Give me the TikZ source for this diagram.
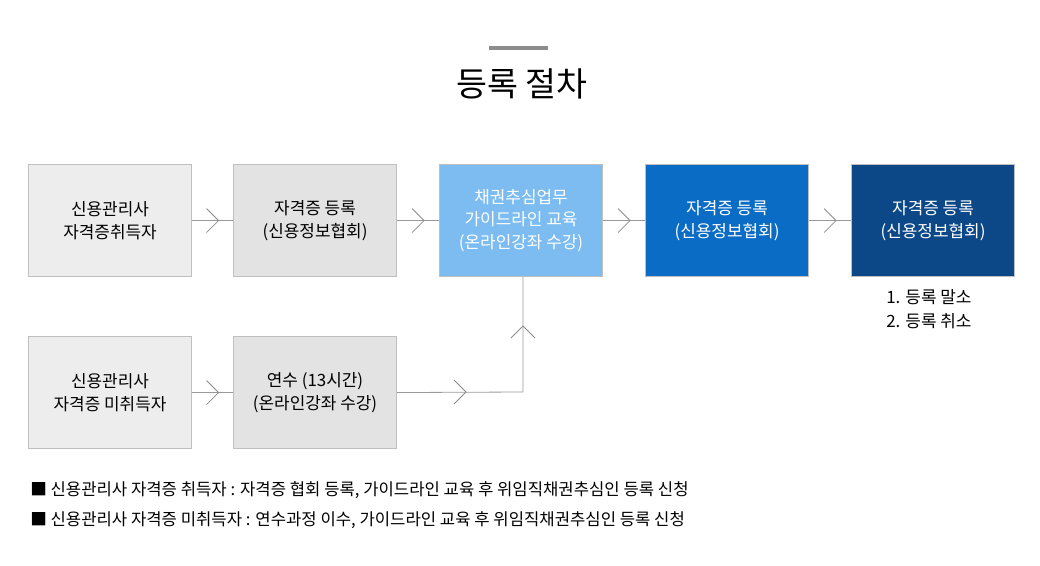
\documentclass[tikz,border=0pt]{standalone}
\usepackage{fontspec}
\setmainfont{Noto Sans CJK KR}
\usetikzlibrary{calc}
\begin{document}
\begin{tikzpicture}[x=0.75pt,y=-0.75pt,
  box/.style={draw=#1, line width=0.8pt, minimum width=163*0.75pt, minimum height=112*0.75pt, inner sep=0pt, align=center, font=\fontsize{12.7}{17}\selectfont, anchor=north west},
  ln/.style={draw=black!40, line width=0.6pt},
  chev/.style={draw=black!45, line width=0.6pt}]
\useasboundingbox (0,0) rectangle (1040,565);
\draw[black!45, line width=3pt] (489,48) -- (548,48);
\node[font=\fontsize{25.2}{29}\selectfont] (title) at (522,84) {등록 절차};
\node[box=black!25, fill=black!7] (b1) at (28,164) {신용관리사\\자격증취득자};
\node[box=black!25, fill=black!11] (b2) at (233,164) {자격증 등록\\(신용정보협회)};
\node[box=black!25, text=white, fill={rgb,255:red,124;green,188;blue,240}] (b3) at (439,164) {채권추심업무\\가이드라인 교육\\(온라인강좌 수강)};
\node[box=black!25, fill={rgb,255:red,10;green,108;blue,196}, text=white] (b4) at (645,164) {자격증 등록\\(신용정보협회)};
\node[box=black!25, fill={rgb,255:red,12;green,72;blue,136}, text=white] (b5) at (851,164) {자격증 등록\\(신용정보협회)};
\node[box=black!25, fill=black!7] (c1) at (28,336) {신용관리사\\자격증 미취득자};
\node[box=black!25, fill=black!11] (c2) at (233,336) {연수 (13시간)\\(온라인강좌 수강)};
\node[anchor=north west, align=left, font=\fontsize{12.7}{18.5}\selectfont, inner sep=0pt] (n5) at (886,289) {1. 등록 말소\\2. 등록 취소};
\foreach \a/\b in {b1/b2,b2/b3,b3/b4,b4/b5,c1/c2}{
  \draw[ln] (\a.east) -- (\b.west);
  \draw[chev] ($(\a.east)!0.5!(\b.west)+(-6,-12)$) -- ++(12,12) -- ++(-12,12);
}
\coordinate (k) at (523,392);
\draw[ln] (c2.east) -- (k) -- (b3.south -| k);
\draw[chev] (454,380) -- (466,392) -- (454,404);
\draw[chev] (511,338) -- (523,326) -- (535,338);
\node[anchor=west, font=\fontsize{12.5}{15}\selectfont, inner sep=0pt] (t1) at (30,490) {■ 신용관리사 자격증 취득자 : 자격증 협회 등록, 가이드라인 교육 후 위임직채권추심인 등록 신청};
\node[anchor=west, font=\fontsize{12.5}{15}\selectfont, inner sep=0pt] (t2) at (30,520) {■ 신용관리사 자격증 미취득자 : 연수과정 이수, 가이드라인 교육 후 위임직채권추심인 등록 신청};
\end{tikzpicture}
\end{document}
